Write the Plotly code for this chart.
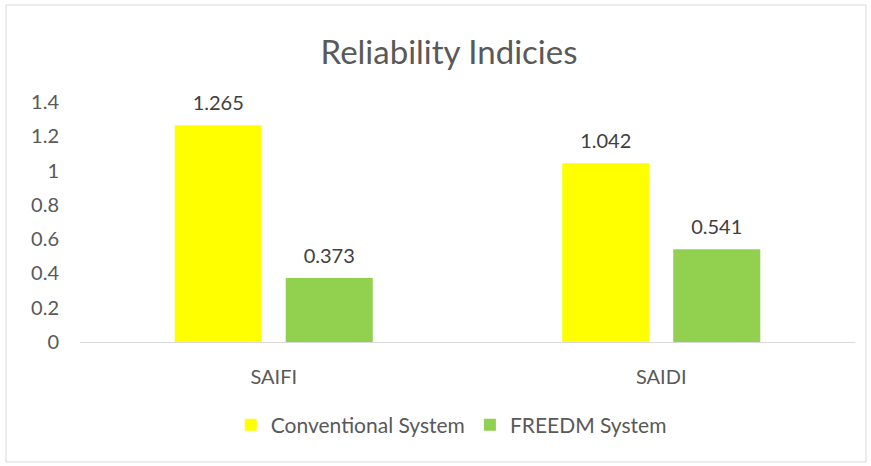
import plotly.graph_objects as go

categories = ["SAIFI", "SAIDI"]
conventional = [1.265, 1.042]
freedm = [0.373, 0.541]
y_ticks = [0, 0.2, 0.4, 0.6, 0.8, 1, 1.2, 1.4]
y_tick_labels = ["0", "0.2", "0.4", "0.6", "0.8", "1", "1.2", "1.4"]

W, H = 871, 466
L, R, T, B = 80, 16, 102, 124
pw, ph = W - L - R, H - T - B
FONT = "Lato, 'Open Sans', sans-serif"
TXT = "#595959"
FS = 20
GAP = 0.427

fig = go.Figure()
series = [("Conventional System", conventional, "#FFFF00", "g1"),
          ("FREEDM System", freedm, "#92D050", "g2")]
for name, vals, color, grp in series:
    fig.add_trace(go.Bar(
        x=categories, y=vals, name=name, offsetgroup=grp,
        marker=dict(color=color, line=dict(width=0)), hoverinfo="skip",
    ))
for name, vals, color, grp in series:
    fig.add_trace(go.Scatter(
        x=categories, y=vals, offsetgroup=grp, mode="markers+text",
        text=[f"{v:g}" for v in vals], textposition="top center",
        marker=dict(size=15, opacity=0), showlegend=False, hoverinfo="skip",
        textfont=dict(size=FS, color="#404040", family=FONT), cliponaxis=False,
    ))

def px_x(p):
    return (p - L) / pw

def px_y(p):
    return (H - B - p) / ph

fig.update_layout(
    width=W, height=H,
    margin=dict(l=L, r=R, t=T, b=B),
    paper_bgcolor="white", plot_bgcolor="white",
    barmode="group", bargap=GAP, bargroupgap=0.216,
    scattermode="group", scattergap=GAP,
    font=dict(family=FONT, color=TXT, size=FS),
    title=dict(text="Reliability Indicies", x=449 / W, xref="container", xanchor="center",
               y=1 - 52 / H, yanchor="middle",
               font=dict(size=33, color=TXT, family=FONT)),
    showlegend=True,
    legend=dict(orientation="h", x=0.479, xanchor="center", y=px_y(425), yanchor="middle",
                font=dict(size=21, color=TXT, family=FONT), itemwidth=30,
                traceorder="normal"),
    xaxis=dict(showgrid=False, showline=True, linecolor="#D9D9D9", linewidth=1,
               ticks="", ticklabelstandoff=17, tickfont=dict(size=FS, color=TXT),
               zeroline=False),
    yaxis=dict(range=[0, 1.4], tickvals=y_ticks, ticktext=y_tick_labels,
               showgrid=False, showline=False, zeroline=False, ticks="",
               ticklabelstandoff=20, tickfont=dict(size=FS, color=TXT)),
    shapes=[dict(type="rect", xref="paper", yref="paper",
                 x0=px_x(6), x1=px_x(866), y0=px_y(5), y1=px_y(462),
                 line=dict(color="#D9D9D9", width=1), fillcolor="rgba(0,0,0,0)",
                 layer="below")],
)

fig.write_html("out.html", config={"displayModeBar": False},
               post_script="document.body.style.margin='0';document.body.style.overflow='hidden';")
